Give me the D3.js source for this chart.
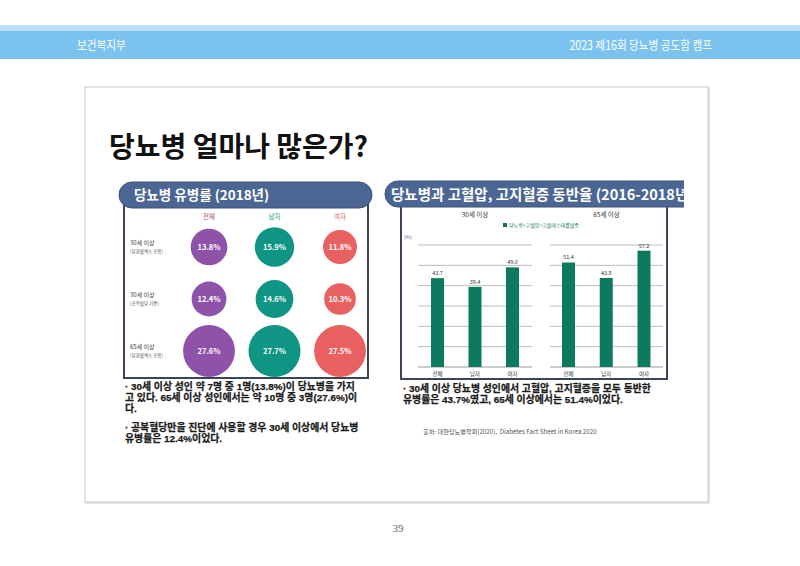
<!DOCTYPE html>
<html>
<head>
<meta charset="utf-8">
<script src="https://cdn.jsdelivr.net/npm/d3@7"></script>
<style>
  body { margin: 0; background: #fff; }
  svg { display: block; }
  text { font-family: "Noto Sans CJK KR", "Noto Sans", sans-serif; }
  text.note { font-family: "Liberation Sans", "Noto Sans CJK KR", sans-serif; }
</style>
</head>
<body>
<script>
// data
var sexes = ["전체", "남자", "여자"]
var rowLabels = ["30세 이상", "30세 이상", "65세 이상"]
var rowSubLabels = ["(당화혈색소 포함)", "(공복혈당 기준)", "(당화혈색소 포함)"]
var prevTotal = [13.8, 12.4, 27.6]
var prevMale = [15.9, 14.6, 27.7]
var prevFemale = [11.8, 10.3, 27.5]

var ageGroups = ["30세 이상", "65세 이상"]
var comorb30 = [43.7, 39.4, 49.0]
var comorb65 = [51.4, 43.8, 57.2]
var yTicks = [0, 10, 20, 30, 40, 50, 60]
var legendLabel = "당뇨병+고혈압+고콜레스테롤혈증"

var notesLeft = [
  "· 30세 이상 성인 약 7명 중 1명(13.8%)이 당뇨병을 가지",
  "고 있다. 65세 이상 성인에서는 약 10명 중 3명(27.6%)이",
  "다.",
  "· 공복혈당만을 진단에 사용할 경우 30세 이상에서 당뇨병",
  "유병률은 12.4%이었다."
]
var notesRight = [
  "· 30세 이상 당뇨병 성인에서 고혈압, 고지혈증을 모두 동반한",
  "유병률은 43.7%였고, 65세 이상에서는 51.4%이었다."
]

svg_w = 800
svg_h = 566
var svg = d3.select("body").append("svg")
    .attr("width", svg_w).attr("height", svg_h)

// header band
svg.append("rect").attr("x", 0).attr("y", 25).attr("width", svg_w).attr("height", 6).attr("fill", "#b9def5")
svg.append("rect").attr("x", 0).attr("y", 31).attr("width", svg_w).attr("height", 28).attr("fill", "#7bc3ee")
svg.append("text").attr("transform", "translate(77,50) scale(0.85,1)").text("보건복지부")
    .attr("fill", "#fff").attr("font-size", 12.5)
svg.append("text").attr("transform", "translate(712,50) scale(0.85,1)").text("2023 제16회 당뇨병 공도함 캠프")
    .attr("fill", "#fff").attr("font-size", 12.5).attr("text-anchor", "end")

// slide frame
svg.append("rect").attr("x", 86).attr("y", 88).attr("width", 623).attr("height", 415)
    .attr("fill", "none").attr("stroke", "#e4e4e4").attr("stroke-width", 2)
svg.append("rect").attr("x", 85).attr("y", 87).attr("width", 623).attr("height", 415)
    .attr("fill", "#fff").attr("stroke", "#c9c9c9").attr("stroke-width", 1)

svg.append("text").attr("x", 398).attr("y", 532).text("39")
    .attr("fill", "#666").attr("font-size", 11).attr("text-anchor", "middle")
    .style("font-family", "'Liberation Serif', serif")

svg.append("text").attr("x", 109).attr("y", 157).text("당뇨병 얼마나 많은가?")
    .attr("fill", "#111").attr("font-size", 28).attr("font-weight", "bold")

// ---------- left panel : bubbles ----------
svg.append("rect").attr("x", 124).attr("y", 205).attr("width", 244).attr("height", 173)
    .attr("fill", "#fff").attr("stroke", "#3a4658").attr("stroke-width", 2)
svg.append("rect").attr("x", 119).attr("y", 182).attr("width", 253).attr("height", 26).attr("rx", 13)
    .attr("fill", "#4b6693").attr("stroke", "#3c5279").attr("stroke-width", 1)
svg.append("text").attr("x", 134).attr("y", 200).text("당뇨병 유병률 (2018년)")
    .attr("fill", "#fff").attr("font-size", 13.5).attr("font-weight", "bold")

var sexColors = ["#8e52a8", "#0e9583", "#e8605f"]
var headColors = ["#a04a74", "#17998a", "#e0606a"]
var xBub = d3.scalePoint().domain(sexes).range([209, 340])
var yBub = d3.scalePoint().domain(d3.range(3)).range([247, 351])
var rBub = d3.scaleSqrt().domain([0, 27.7]).range([0, 26])

svg.selectAll(".colhead").data(sexes).enter().append("text")
    .attr("x", d => xBub(d)).attr("y", 219).text(d => d)
    .attr("fill", (d, i) => headColors[i]).attr("font-size", 6.5).attr("text-anchor", "middle")

svg.selectAll(".rowlab").data(rowLabels).enter().append("text")
    .attr("x", 130).attr("y", (d, i) => yBub(i) - 2).text(d => d)
    .attr("fill", "#444").attr("font-size", 6)
svg.selectAll(".rowsub").data(rowSubLabels).enter().append("text")
    .attr("x", 130).attr("y", (d, i) => yBub(i) + 6).text(d => d)
    .attr("fill", "#555").attr("font-size", 4.5)

var bubbles = []
var series = [prevTotal, prevMale, prevFemale]
for (let s = 0; s < 3; s++) {
    for (let r = 0; r < 3; r++) {
        bubbles.push({sex: sexes[s], row: r, v: series[s][r], c: sexColors[s]})
    }
}
svg.selectAll(".bub").data(bubbles).enter().append("circle")
    .attr("cx", d => xBub(d.sex)).attr("cy", d => yBub(d.row))
    .attr("r", d => rBub(d.v)).attr("fill", d => d.c)
svg.selectAll(".bubtxt").data(bubbles).enter().append("text")
    .attr("x", d => xBub(d.sex)).attr("y", d => yBub(d.row) + 3)
    .text(d => d.v.toFixed(1) + "%")
    .attr("fill", "#fff").attr("font-size", 7.5).attr("font-weight", "bold").attr("text-anchor", "middle")

svg.selectAll(".noteL").data(notesLeft).enter().append("text").attr("class", "note")
    .attr("x", 125).attr("y", (d, i) => 390 + i * 11.2 + (i >= 3 ? 7 : 0)).text(d => d)
    .attr("fill", "#1a1a1a").attr("font-size", 9.9).attr("font-weight", "bold")
    .attr("stroke", "#1a1a1a").attr("stroke-width", 0.25)

// ---------- right panel : bars ----------
svg.append("rect").attr("x", 401).attr("y", 204).attr("width", 266).attr("height", 175)
    .attr("fill", "#fff").attr("stroke", "#3a4658").attr("stroke-width", 2)
svg.append("clipPath").attr("id", "pillclip").append("rect")
    .attr("x", 380).attr("y", 170).attr("width", 304).attr("height", 50)
var pill = svg.append("g").attr("clip-path", "url(#pillclip)")
pill.append("rect").attr("x", 385).attr("y", 181).attr("width", 320).attr("height", 26).attr("rx", 13)
    .attr("fill", "#4b6693").attr("stroke", "#3c5279").attr("stroke-width", 1)
pill.append("text").attr("x", 391).attr("y", 200).text("당뇨병과 고혈압, 고지혈증 동반율 (2016-2018년)")
    .attr("fill", "#fff").attr("font-size", 14.5).attr("font-weight", "bold")

var yBar = d3.scaleLinear().domain([0, 60]).range([367, 245])
var panels = [
    {title: ageGroups[0], vals: comorb30, x0: 418, x1: 532, c0: 437.5, c1: 512.5},
    {title: ageGroups[1], vals: comorb65, x0: 550, x1: 663, c0: 568.5, c1: 644}
]
panels.forEach(p => {
    var g = svg.append("g")
    var xs = d3.scalePoint().domain(sexes).range([p.c0, p.c1])
    g.selectAll(".grid").data(yTicks).enter().append("line")
        .attr("x1", p.x0).attr("x2", p.x1)
        .attr("y1", d => yBar(d)).attr("y2", d => yBar(d))
        .attr("stroke", d => d == 0 ? "#9a9a9a" : "#bdbdbd").attr("stroke-width", 1)
    g.selectAll(".bar").data(p.vals).enter().append("rect")
        .attr("x", (d, i) => xs(sexes[i]) - 6.5).attr("width", 13)
        .attr("y", d => yBar(d)).attr("height", d => yBar(0) - yBar(d))
        .attr("fill", "#0c7a5e")
    g.selectAll(".val").data(p.vals).enter().append("text")
        .attr("x", (d, i) => xs(sexes[i])).attr("y", d => yBar(d) - 3)
        .text(d => d.toFixed(1))
        .attr("fill", "#333").attr("font-size", 5.5).attr("text-anchor", "middle")
    g.selectAll(".cat").data(sexes).enter().append("text")
        .attr("x", d => xs(d)).attr("y", 376).text(d => d)
        .attr("fill", "#333").attr("font-size", 5.5).attr("text-anchor", "middle")
    g.append("text").attr("x", (p.x0 + p.x1) / 2).attr("y", 217).text(p.title)
        .attr("fill", "#333").attr("font-size", 6.5).attr("text-anchor", "middle")
})
svg.append("text").attr("x", 404).attr("y", 239).text("(%)")
    .attr("fill", "#666").attr("font-size", 5)
svg.append("rect").attr("x", 503).attr("y", 223).attr("width", 4).attr("height", 4).attr("fill", "#0c7a5e")
svg.append("text").attr("x", 509).attr("y", 227).text(legendLabel)
    .attr("fill", "#0c7a5e").attr("font-size", 5)

svg.selectAll(".noteR").data(notesRight).enter().append("text").attr("class", "note")
    .attr("x", 403).attr("y", (d, i) => 392 + i * 11.2).text(d => d)
    .attr("fill", "#1a1a1a").attr("font-size", 9.9).attr("font-weight", "bold")
    .attr("stroke", "#1a1a1a").attr("stroke-width", 0.25)

svg.append("text").attr("x", 423).attr("y", 434)
    .text("출처: 대한당뇨병학회(2020),  Diabetes Fact Sheet in Korea 2020")
    .attr("fill", "#555").attr("font-size", 6.2).style("white-space", "pre")
</script>
</body>
</html>
